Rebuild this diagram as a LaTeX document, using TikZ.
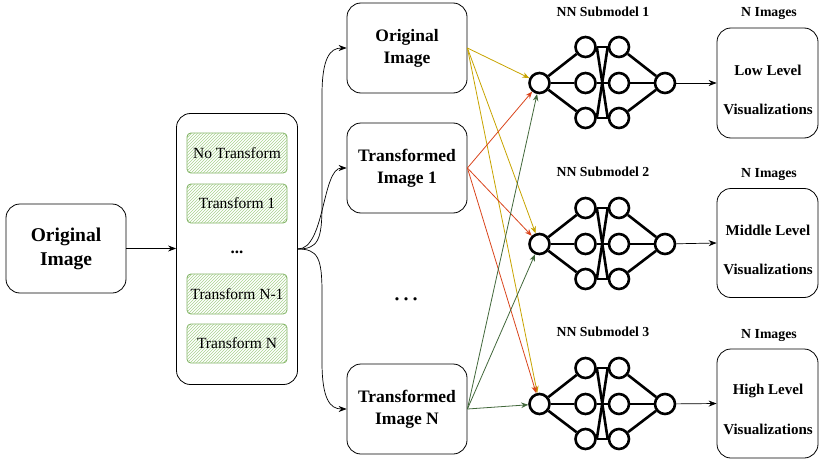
\documentclass[tikz,border=0pt]{standalone}
\usepackage{fontspec}
\setmainfont{Liberation Serif}
\usetikzlibrary{arrows.meta,patterns}
\definecolor{yel}{HTML}{C7A300}
\definecolor{redo}{HTML}{D9441C}
\definecolor{grn}{HTML}{41673A}
\definecolor{gborder}{HTML}{82B366}
\definecolor{ghatch}{HTML}{A9D18E}
\tikzset{
  box/.style={draw, rounded corners=14pt, line width=0.8pt, inner sep=0pt, align=center},
  bigtxt/.style={font=\fontsize{17.5}{22}\selectfont\bfseries},
  tbox/.style={draw=gborder, line width=0.9pt, rounded corners=4pt, minimum width=100pt, inner sep=0pt,
     fill=white, postaction={pattern=north east lines, pattern color=ghatch},
     font=\fontsize{15.5}{18}\selectfont},
  neuron/.style={circle, draw, line width=2.6pt, minimum size=20pt, inner sep=0pt},
  nnline/.style={line width=2.6pt},
  arr/.style={-{Stealth[length=8pt,width=6pt]}, line width=0.7pt},
  carr/.style={-{Stealth[length=7pt,width=5.5pt]}, line width=0.8pt},
  ttl/.style={font=\fontsize{13.8}{16}\selectfont\bfseries},
  rtxt/.style={font=\fontsize{15}{18}\selectfont\bfseries, align=center},
}
\newcommand\nnet[2]{%
  \node[neuron] (#1i) at (539.5,#2) {};
  \foreach \k/\dy in {1/-36,2/0,3/35}{%
    \node[neuron] (#1a\k) at (585.5,#2+\dy) {};
    \node[neuron] (#1b\k) at (619,#2+\dy) {};
  }
  \node[neuron] (#1o) at (665,#2) {};
  \foreach \k in {1,2,3}{%
    \draw[nnline] (#1i) -- (#1a\k);
    \draw[nnline] (#1b\k) -- (#1o);
    \draw[nnline] (#1a\k.east) -- (#1b\k.west);
  }
  \draw[nnline] (#1a1.east) -- (#1b3.west);
  \draw[nnline] (#1a3.east) -- (#1b1.west);
}
\begin{document}
\begin{tikzpicture}[x=1pt,y=-1pt]
\useasboundingbox (0,0) rectangle (819,460);
% left box
\node[box, font=\fontsize{19.5}{24}\selectfont\bfseries, minimum width=120pt, minimum height=89pt] (orig) at (66,248.5) {Original\\Image};
% container
\node[box, minimum width=121pt, minimum height=271pt] (cont) at (237,249) {};
\node[tbox, minimum height=40pt] (t0) at (237,153) {No Transform};
\node[tbox, minimum height=39pt] (t1) at (237,203.5) {Transform 1};
\node[font=\fontsize{17}{20}\selectfont\bfseries, anchor=base] (cdots) at (237,253) {...};
\node[tbox, minimum height=40pt] (tn1) at (237,294) {Transform N-1};
\node[tbox, minimum height=39pt] (tn) at (237,343.5) {Transform N};
\draw[arr] (orig.east) -- (cont.west |- orig.east);
% column 2
\node[box, bigtxt, minimum width=120pt, minimum height=90pt] (b0) at (407,48) {Original\\Image};
\node[box, bigtxt, minimum width=120pt, minimum height=90pt] (b1) at (407,168) {Transformed\\Image 1};
\node[box, bigtxt, minimum width=120pt, minimum height=90pt] (bn) at (407,409) {Transformed\\Image N};
\node[font=\fontsize{27}{30}\selectfont, anchor=base] (mdots) at (406,300) {…};
\draw[arr] (cont.east) .. controls (318,249) and (322,240) .. (322,205) -- (322,95) .. controls (322,58) and (330,48) .. (b0.west);
\draw[arr] (cont.east) .. controls (325,249) and (322,168) .. (b1.west);
\draw[arr] (cont.east) .. controls (318,249) and (322,258) .. (322,293) -- (322,362) .. controls (322,399) and (330,409) .. (bn.west);
% networks
\nnet{p}{83}
\nnet{q}{244}
\nnet{r}{404}
\node[ttl] (tp) at (603,12) {NN Submodel 1};
\node[ttl] (tq) at (603,172) {NN Submodel 2};
\node[ttl] (tr) at (603,332) {NN Submodel 3};
% colored arrows
\foreach \t in {p,q,r}{\draw[carr, yel] (b0.east) -- (\t i);}
\foreach \t in {p,q,r}{\draw[carr, redo] (b1.east) -- (\t i);}
\foreach \t in {p,q,r}{\draw[carr, grn] (bn.east) -- (\t i);}
% right boxes
\node[box, minimum width=101pt, minimum height=110pt] (rp) at (767.5,83) {};
\node[box, minimum width=101pt, minimum height=109pt] (rq) at (767.5,243) {};
\node[box, minimum width=101pt, minimum height=109pt] (rr) at (767.5,403.5) {};
\node[ttl] (np) at (769,14) {N Images};
\node[ttl] (nq) at (769,175) {N Images};
\node[ttl] (nr) at (769,336) {N Images};
\node[rtxt] (lp1) at (768,70) {Low Level};
\node[rtxt] (lp2) at (768,109) {Visualizations};
\node[rtxt] (lq1) at (768,230) {Middle Level};
\node[rtxt] (lq2) at (768,269) {Visualizations};
\node[rtxt] (lr1) at (768,391) {High Level};
\node[rtxt] (lr2) at (768,429) {Visualizations};
\draw[arr] (po) -- (rp.west);
\draw[arr] (qo) -- (rq.west);
\draw[arr] (ro) -- (rr.west);
\end{tikzpicture}
\end{document}
